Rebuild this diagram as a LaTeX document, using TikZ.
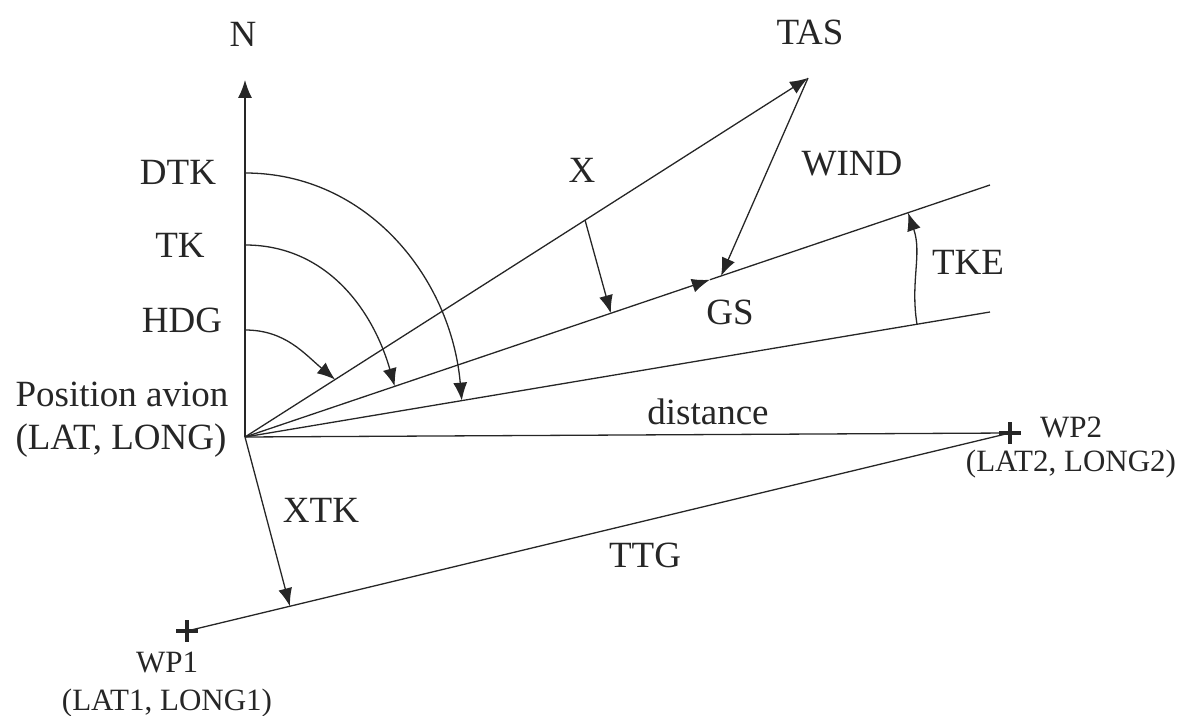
\documentclass[tikz,border=0pt]{standalone}
\usepackage{fontspec}
\setmainfont{Liberation Serif}
\usetikzlibrary{arrows.meta,calc}
\definecolor{ink}{gray}{0.15}
\tikzset{
  ln/.style={draw=ink, line width=1.3pt},
  arr/.style={ln, -{Latex[length=18pt,width=14pt,fill=ink]}},
  lbl/.style={text=ink, font=\fontsize{37}{40}\selectfont, inner sep=0pt, anchor=base},
  sml/.style={text=ink, font=\fontsize{31}{34}\selectfont, inner sep=0pt, anchor=base},
  wpmark/.style={draw=ink, line width=4.5pt}
}
\begin{document}
\begin{tikzpicture}[x=1pt,y=1pt]
\useasboundingbox (0,0) rectangle (1186,715);
% key points
\coordinate (O) at (245,278);
\coordinate (Ntip) at (245,635);
\coordinate (T) at (808,637);
\coordinate (G) at (990,530);
\coordinate (D) at (990,403);
\coordinate (WP2) at (1010,282);
\coordinate (WP1) at (187,84);
\coordinate (gsTip) at ($(O)!0.624!(G)$);
\coordinate (windTip) at ($(O)!0.639!(G)$);
\coordinate (xA) at ($(O)!0.604!(T)$);
\coordinate (xB) at ($(O)!0.491!(G)$);
\coordinate (tkeA) at ($(O)!0.902!(D)$);
\coordinate (tkeB) at ($(O)!0.890!(G)$);
\coordinate (hdgB) at ($(O)!0.16!(T)$);
\coordinate (tkB) at ($(O)!0.201!(G)$);
\coordinate (dtkB) at ($(O)!0.291!(D)$);
\coordinate (xtkB) at ($(WP1)!0.125!(WP2)$);
\coordinate (hdgA) at ($(O)+(0,107)$);
\coordinate (tkA) at ($(O)+(0,192)$);
\coordinate (dtkA) at ($(O)+(0,264)$);
% lines
\draw[arr] (O) -- (Ntip);
\draw[arr] (O) -- (T);
\draw[arr] (O) -- (gsTip);
\draw[ln] (gsTip) -- (G);
\draw[ln] (O) -- (D);
\draw[ln] (O) -- (WP2);
\draw[ln] (WP1) -- (WP2);
\draw[arr] (T) -- (windTip);
\draw[arr] (xA) -- (xB);
\draw[arr] (O) -- (xtkB);
\draw[arr] (tkeA) to[out=99,in=-71] (tkeB);
\draw[arr] (hdgA) to[out=0,in=140] (hdgB);
\draw[arr] (tkA) to[out=0,in=106] (tkB);
\draw[arr] (dtkA) to[out=0,in=95] (dtkB);
% waypoint crosses
\draw[wpmark] ($(WP1)+(-11,0)$) -- ($(WP1)+(11,0)$);
\draw[wpmark] ($(WP1)+(0,-11)$) -- ($(WP1)+(0,11)$);
\draw[wpmark] ($(WP2)+(-11,0)$) -- ($(WP2)+(11,0)$);
\draw[wpmark] ($(WP2)+(0,-11)$) -- ($(WP2)+(0,11)$);
% labels
\node[lbl] (lN) at (243,668) {N};
\node[lbl] (lTAS) at (810,670) {TAS};
\node[lbl] (lX) at (582,532) {X};
\node[lbl] (lWIND) at (852,539) {WIND};
\node[lbl] (lGS) at (730,390) {GS};
\node[lbl] (lTKE) at (968,440) {TKE};
\node[lbl] (lDTK) at (178,530) {DTK};
\node[lbl] (lTK) at (180,457) {TK};
\node[lbl] (lHDG) at (182,382) {HDG};
\node[lbl] (lPos) at (122,308) {Position avion};
\node[lbl] (lLL) at (121,265) {(LAT, LONG)};
\node[lbl] (lDist) at (708,290) {distance};
\node[lbl] (lTTG) at (645,147) {TTG};
\node[lbl] (lXTK) at (321,192) {XTK};
\node[sml] (lWP2) at (1071,277) {WP2};
\node[sml] (lLL2) at (1071,243) {(LAT2, LONG2)};
\node[sml] (lWP1) at (167,42) {WP1};
\node[sml] (lLL1) at (167,5) {(LAT1, LONG1)};
\end{tikzpicture}
\end{document}
